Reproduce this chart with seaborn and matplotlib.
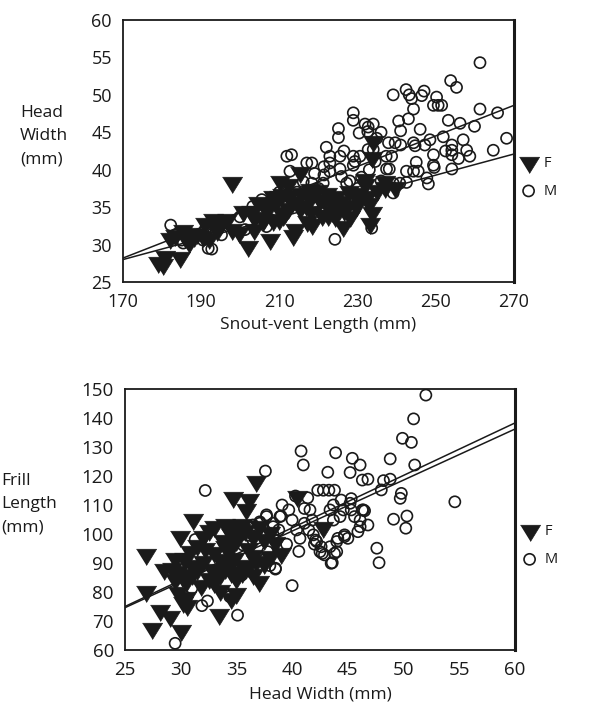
import numpy as np
import pandas as pd
import seaborn as sns
import matplotlib.pyplot as plt
from matplotlib.ticker import MultipleLocator

sns.set_theme(style="white")
plt.rcParams['font.family'] = ['Open Sans', 'DejaVu Sans']

# ---- top panel: snout-vent length vs head width (mm) ----
svl_f = [179.0, 180.2, 180.7, 184.6, 182.0, 183.4, 185.8, 187.0, 188.1, 188.9,
         190.5, 192.0, 193.1, 195.0, 196.5, 198.0, 199.7, 197.8, 202.0, 200.7,
         202.8, 203.6, 205.9, 207.6, 208.4, 208.9, 210.0, 211.5, 213.1, 212.1,
         213.6, 214.0, 215.2, 215.5, 216.9, 217.6, 218.3, 218.0, 219.6, 220.4,
         221.5, 222.3, 223.4, 224.2, 225.5, 226.3, 226.5, 227.2, 228.0, 229.0,
         230.3, 231.8, 232.5, 233.0, 233.6, 233.2, 233.9, 233.6, 236.9, 239.5,
         235.0, 229.5, 221.0, 206.5, 209.8, 204.5, 211.0, 217.0, 224.5, 227.8,
         212.8, 191.0, 194.0, 203.5, 185.3, 215.3, 210.2, 208.4, 210.6, 207.5,
         217.9, 222.5, 231.9, 237.0, 205.8, 212.1, 223.6]
hw_f = [27.5, 27.3, 28.4, 28.2, 30.8, 31.2, 30.9, 30.2, 31.0, 31.4,
        31.0, 30.8, 33.3, 32.8, 33.3, 31.9, 31.6, 38.2, 29.7, 34.4,
        34.4, 33.5, 33.2, 30.6, 33.2, 35.5, 36.4, 34.2, 35.5, 37.9,
        31.1, 32.0, 34.8, 36.8, 35.1, 36.2, 32.6, 34.4, 37.1, 35.8,
        35.8, 36.8, 34.3, 33.7, 35.7, 32.3, 34.5, 35.2, 33.7, 36.8,
        36.0, 38.0, 36.4, 35.4, 34.2, 32.8, 43.7, 41.6, 37.5, 37.5,
        37.2, 35.0, 33.8, 34.6, 33.3, 35.5, 33.8, 33.0, 36.3, 37.0,
        36.5, 32.7, 31.8, 32.0, 31.8, 39.6, 38.4, 36.4, 36.6, 35.2,
        37.3, 33.8, 38.6, 38.4, 33.3, 34.7, 35.6]

svl_m = [261.3, 253.8, 255.3, 239.1, 242.4, 243.2, 243.8, 244.3, 246.4, 247.0,
         250.2, 249.4, 250.6, 251.5, 261.3, 265.8, 253.2, 256.2, 259.9, 251.9,
         257.0, 268.1, 264.7, 254.1, 254.1, 254.1, 257.9, 258.7, 255.8, 254.1,
         249.4, 249.4, 249.6, 247.7, 248.1, 246.0, 241.0, 237.9, 239.6, 241.0,
         244.3, 244.7, 247.2, 237.3, 238.7, 237.4, 238.1, 242.5, 244.3, 245.5,
         239.1, 240.8, 242.5, 239.1, 228.9, 228.9, 230.4, 231.9, 232.7, 234.0,
         232.6, 234.9, 232.7, 234.0, 225.1, 225.1, 222.9, 225.5, 222.9, 221.4,
         222.9, 221.4, 228.9, 229.3, 228.9, 230.6, 234.5, 225.5, 225.9, 227.2,
         211.9, 213.1, 212.7, 217.0, 218.3, 216.1, 218.3, 212.3, 213.6, 216.1,
         218.7, 221.2, 222.1, 223.8, 224.2, 233.6, 203.2, 205.0, 206.7, 201.2,
         195.2, 193.1, 191.0, 191.8, 192.7, 190.5, 185.4, 185.0, 182.2, 183.3,
         199.9, 205.5, 210.0, 214.5, 219.5, 226.0, 228.0, 230.0, 231.0, 236.0,
         233.0, 220.0, 226.5, 222.0, 219.0, 248.5, 252.5, 245.0, 240.5, 243.0,
         236.0]
hw_m = [54.3, 51.9, 51.0, 50.0, 50.7, 50.0, 49.5, 48.1, 49.9, 50.5,
        49.7, 48.6, 48.6, 48.6, 48.1, 47.6, 46.6, 46.2, 45.8, 44.4,
        44.0, 44.2, 42.6, 43.3, 42.6, 42.0, 42.6, 41.8, 41.5, 40.1,
        42.0, 40.6, 40.3, 38.9, 38.1, 45.4, 45.2, 43.6, 43.6, 43.3,
        43.6, 43.2, 43.3, 41.8, 41.8, 40.1, 40.1, 39.8, 39.8, 39.8,
        38.2, 38.2, 38.3, 36.9, 47.6, 46.6, 44.9, 46.1, 45.7, 46.1,
        45.1, 44.2, 42.7, 42.7, 45.5, 44.3, 41.8, 41.8, 40.9, 40.4,
        39.8, 39.3, 41.8, 41.1, 40.6, 41.8, 41.1, 40.1, 39.1, 38.2,
        41.8, 42.0, 39.8, 40.9, 40.9, 38.4, 38.2, 36.4, 35.5, 35.5,
        36.4, 38.2, 35.5, 35.5, 30.7, 32.2, 35.1, 32.9, 32.4, 32.0,
        31.3, 31.5, 32.0, 29.5, 29.4, 30.6, 30.2, 30.6, 32.6, 31.3,
        33.7, 36.0, 37.0, 37.0, 34.0, 36.0, 38.5, 37.5, 39.0, 38.5,
        40.0, 37.5, 42.5, 43.0, 39.5, 44.0, 42.5, 41.0, 46.5, 46.8,
        45.0]

# fitted lines (ends at the axis limits)
fit_svl = [170, 270]
fit_hw_f = [28.0, 42.1]
fit_hw_m = [28.2, 48.6]
svl_ticks = [170, 190, 210, 230, 250, 270]

# ---- bottom panel: head width vs frill length (mm) ----
hw2_f = [26.9, 26.9, 27.4, 28.1, 29.0, 30.0, 29.8, 30.2, 30.5, 30.6,
         31.1, 29.9, 29.2, 29.8, 30.1, 29.5, 30.3, 30.8, 31.0, 31.5,
         32.0, 32.8, 32.0, 32.5, 33.0, 32.5, 33.0, 33.4, 34.7, 34.3,
         34.8, 35.3, 35.8, 34.5, 35.0, 34.0, 34.3, 34.2, 34.0, 34.5,
         35.0, 35.5, 35.0, 35.9, 36.1, 36.8, 36.0, 36.5, 36.0, 36.5,
         37.0, 37.5, 38.0, 38.5, 38.0, 39.0, 37.5, 33.5, 33.0, 32.2,
         31.5, 31.0, 29.5, 28.5, 40.4, 42.8, 33.5, 34.8, 35.5, 36.8,
         33.8, 31.8, 30.5, 37.0, 36.5, 35.5, 34.0, 33.5, 34.5]
frill_f = [92.7, 80.1, 67.1, 73.4, 71.4, 66.5, 79.6, 76.3, 78.0, 75.3,
           104.8, 99.1, 88.1, 86.9, 85.2, 91.5, 91.5, 93.8, 89.0, 87.5,
           90.5, 87.6, 99.0, 101.0, 102.3, 84.5, 83.0, 72.2, 112.4, 102.6,
           102.0, 101.5, 101.0, 99.5, 97.5, 95.5, 94.0, 90.5, 88.0, 86.5,
           84.5, 86.5, 79.2, 108.2, 111.7, 117.8, 95.0, 92.5, 88.5, 86.0,
           83.5, 98.0, 100.5, 97.0, 92.0, 93.0, 89.5, 91.0, 93.5, 95.0,
           96.0, 86.0, 84.0, 87.5, 112.9, 101.9, 86.0, 91.5, 89.0, 90.5,
           97.5, 82.0, 83.5, 102.5, 99.0, 103.0, 103.2, 80.5, 77.5]

hw2_m = [52.0, 50.9, 49.9, 50.7, 51.0, 54.6, 40.8, 41.0, 37.6, 43.9,
         43.2, 45.4, 46.1, 45.2, 46.3, 46.8, 48.2, 48.8, 48.8, 48.0,
         49.8, 49.7, 49.1, 50.3, 50.2, 47.6, 47.8, 42.3, 42.8, 43.3,
         43.8, 40.3, 39.1, 39.7, 38.9, 40.0, 40.4, 40.7, 37.7, 38.3,
         38.8, 38.3, 36.5, 37.1, 41.1, 41.6, 41.8, 41.1, 41.5, 41.9,
         42.2, 42.6, 42.5, 42.9, 43.5, 44.0, 43.4, 44.1, 44.7, 43.7,
         44.3, 44.6, 45.2, 45.3, 45.6, 46.1, 46.4, 40.0, 38.0, 38.5,
         37.6, 45.3, 44.4, 43.7, 43.4, 46.3, 46.8, 46.1, 45.9, 44.7,
         44.0, 43.8, 43.6, 42.7, 42.1, 32.2, 29.5, 31.3, 31.9, 32.4,
         31.0, 34.4, 35.1, 34.0, 35.6, 36.5, 37.1, 37.8, 39.0, 37.7,
         38.3, 38.5, 35.5, 36.2, 39.5, 40.6, 41.4, 42.0, 45.0, 46.5]
frill_m = [147.9, 139.7, 133.0, 131.6, 123.8, 111.1, 128.6, 123.8, 121.7, 128.0,
           121.3, 126.1, 123.8, 121.2, 118.6, 118.9, 118.4, 118.9, 125.9, 115.2,
           114.0, 112.3, 105.1, 106.2, 102.0, 95.1, 90.1, 115.1, 115.1, 115.1,
           115.1, 113.1, 110.0, 108.3, 106.0, 104.8, 101.4, 98.5, 106.0, 103.7,
           101.4, 99.7, 102.5, 104.2, 108.8, 108.3, 104.8, 103.7, 101.4, 99.7,
           97.4, 95.6, 93.9, 92.8, 89.9, 93.9, 95.6, 98.5, 99.7, 104.8,
           106.0, 108.3, 110.6, 108.3, 106.0, 104.8, 108.3, 82.2, 89.1, 87.9,
           91.4, 112.2, 111.7, 110.0, 108.3, 108.3, 103.1, 102.5, 100.8, 99.1,
           97.4, 93.3, 90.1, 93.3, 97.9, 115.0, 62.3, 98.1, 75.3, 76.9,
           81.3, 78.4, 72.0, 92.8, 96.2, 103.1, 103.7, 93.9, 106.2, 106.6,
           102.5, 88.2, 85.9, 99.5, 96.5, 94.0, 112.5, 96.5, 98.5, 108.0]

fit_hw2 = [25, 60]
fit_frill_f = [74.6, 136.2]
fit_frill_m = [75.0, 138.3]

df_top = pd.DataFrame({'x': svl_f + svl_m, 'y': hw_f + hw_m,
                       'sex': ['F'] * len(svl_f) + ['M'] * len(svl_m)})
df_bot = pd.DataFrame({'x': hw2_f + hw2_m, 'y': frill_f + frill_m,
                       'sex': ['F'] * len(hw2_f) + ['M'] * len(hw2_m)})

TRI = [(-1, 0.62), (1, 0.62), (0, -1)]
INK = '#1a1a1a'


def draw_panel(ax, df, fit_x, fit_f, fit_m, tick_fs):
    f = df[df['sex'] == 'F']
    m = df[df['sex'] == 'M']
    sns.scatterplot(x=f['x'], y=f['y'], ax=ax, marker=TRI, s=210, color=INK,
                    edgecolor=INK, linewidth=0.5, label='F', zorder=2)
    sns.scatterplot(x=m['x'], y=m['y'], ax=ax, marker='o', s=64, facecolor='none',
                    edgecolor=INK, linewidth=1.2, label='M', zorder=3)
    sns.lineplot(x=fit_x, y=fit_f, ax=ax, color=INK, lw=1.1, zorder=4)
    sns.lineplot(x=fit_x, y=fit_m, ax=ax, color=INK, lw=1.1, zorder=4)
    for sp in ax.spines.values():
        sp.set_color(INK)
        sp.set_linewidth(1.3)
    ax.spines['right'].set_linewidth(2.2)
    ax.tick_params(which='both', direction='out', color=INK, width=1.0,
                   labelsize=tick_fs, labelcolor=INK, pad=3)
    ax.tick_params(which='major', length=5)
    ax.tick_params(which='minor', length=4)
    ax.set_ylabel('')
    leg = ax.legend(loc='center left', bbox_to_anchor=(1.0, 0.40), frameon=False,
                    fontsize=10.5, handletextpad=0.4, labelspacing=0.9,
                    borderaxespad=0.0, handlelength=1.2)
    for t in leg.get_texts():
        t.set_color(INK)


fig = plt.figure(figsize=(5.96, 7.15), dpi=100)
ax1 = fig.add_axes([123 / 596, 1 - 282 / 715, 391 / 596, 262 / 715])
ax2 = fig.add_axes([125 / 596, 1 - 650 / 715, 390 / 596, 261 / 715])

draw_panel(ax1, df_top, fit_svl, fit_hw_f, fit_hw_m, 13)
ax1.set_xlim(170, 270)
ax1.set_ylim(25, 60)
ax1.set_xticks(svl_ticks)
ax1.xaxis.set_minor_locator(MultipleLocator(5))
ax1.yaxis.set_major_locator(MultipleLocator(5))
ax1.yaxis.set_minor_locator(MultipleLocator(2.5))
ax1.set_xlabel('Snout-vent Length (mm)', fontsize=12.5, color=INK, labelpad=4)

draw_panel(ax2, df_bot, fit_hw2, fit_frill_f, fit_frill_m, 13.5)
ax2.set_xlim(25, 60)
ax2.set_ylim(60, 150)
ax2.xaxis.set_major_locator(MultipleLocator(5))
ax2.xaxis.set_minor_locator(MultipleLocator(2.5))
ax2.yaxis.set_major_locator(MultipleLocator(10))
ax2.yaxis.set_minor_locator(MultipleLocator(5))
ax2.set_xlabel('Head Width (mm)', fontsize=12.5, color=INK, labelpad=5)

fig.text(20 / 596, 1 - 136 / 715, 'Head\nWidth\n(mm)', ha='left', va='center',
         fontsize=12.5, linespacing=1.6, color=INK)
fig.text(1 / 596, 1 - 504 / 715, 'Frill\nLength\n(mm)', ha='left', va='center',
         fontsize=12.5, linespacing=1.6, color=INK)

fig.savefig('out.png', dpi=100)
